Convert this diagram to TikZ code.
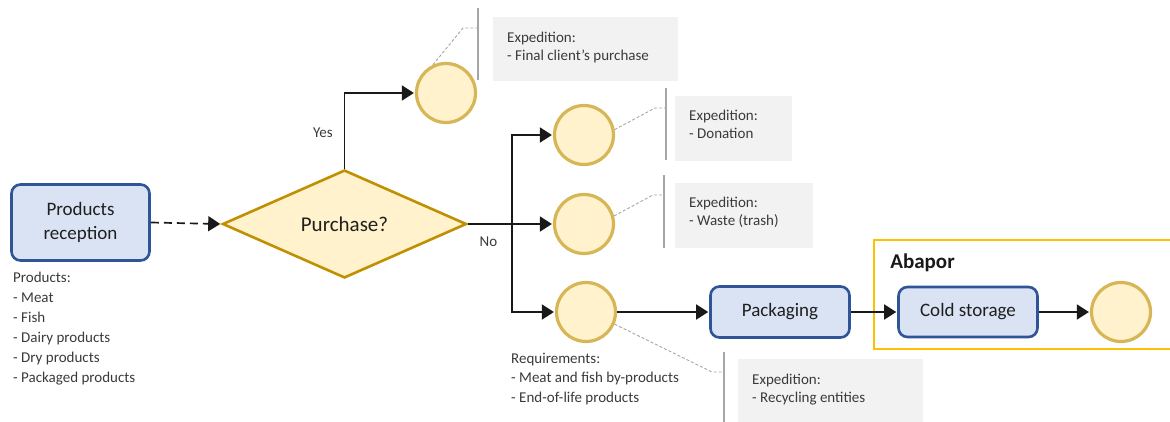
\documentclass[tikz,border=0pt]{standalone}
\usepackage{fontspec}
\setmainfont{Carlito}
\usetikzlibrary{arrows.meta,shapes.geometric}

\definecolor{taskfill}{HTML}{DAE3F3}
\definecolor{taskdraw}{HTML}{2F5597}
\definecolor{gatefill}{HTML}{FFF2CC}
\definecolor{gatedraw}{HTML}{BF9000}
\definecolor{eventdraw}{HTML}{D6B656}
\definecolor{notefill}{HTML}{F2F2F2}
\definecolor{notegray}{HTML}{A6A6A6}
\definecolor{notetext}{HTML}{3A3A3A}
\definecolor{mainText}{HTML}{1F1F1F}
\definecolor{poolframe}{HTML}{FFC000}

\begin{document}
\begin{tikzpicture}[x=1pt,y=-1pt,
  task/.style={draw=taskdraw, fill=taskfill, line width=2.6pt, rounded corners=9pt,
    inner sep=0pt, align=center, text=mainText,
    font=\fontsize{19}{24}\selectfont},
  gate/.style={diamond, draw=gatedraw, fill=gatefill, line width=2.6pt, inner sep=0pt,
    aspect=2.26, minimum width=244pt, minimum height=108pt, text=mainText,
    font=\fontsize{21}{24}\selectfont},
  event/.style={circle, draw=eventdraw, fill=gatefill, line width=3.2pt, inner sep=0pt,
    minimum size=59pt},
  flow/.style={draw=black!90, line width=1.7pt, shorten >=1pt,
    -{Triangle[length=12pt,width=15pt]}},
  notebox/.style={fill=notefill, draw=none, inner sep=0pt, anchor=north west},
  notetxt/.style={anchor=north west, inner sep=0pt, align=left, text=notetext,
    font=\fontsize{15}{18.3}\selectfont},
  listtxt/.style={anchor=north west, inner sep=0pt, align=left, text=notetext,
    font=\fontsize{15}{20}\selectfont},
  bracket/.style={draw=notegray, line width=1.3pt},
  callout/.style={draw=notegray, line width=0.9pt, dash pattern=on 3pt off 2pt},
  edgelabel/.style={text=notetext, font=\fontsize{15}{18}\selectfont, inner sep=0pt},
  pool/.style={draw=poolframe, line width=1.5pt, inner sep=0pt, anchor=north west}
]
\useasboundingbox (0,0) rectangle (1170,421);
\clip (0,0) rectangle (1170,421);

% ---- annotation boxes (background) ----
\node[notebox, minimum width=185pt, minimum height=64pt] (n1box) at (493,17) {};
\node[notebox, minimum width=117pt, minimum height=65pt] (n2box) at (675,96) {};
\node[notebox, minimum width=138pt, minimum height=65pt] (n3box) at (675,183) {};
\node[notebox, minimum width=185pt, minimum height=80pt] (n4box) at (738,359) {};

\node[notetxt] (n1) at (507,31.5) {Expedition:\\- Final client's purchase};
\node[notetxt] (n2) at (689,109.5) {Expedition:\\- Donation};
\node[notetxt] (n3) at (689,196.5) {Expedition:\\- Waste (trash)};
\node[notetxt] (n4) at (752,373.5) {Expedition:\\- Recycling entities};

% ---- pool frame ----
\node[pool, minimum width=310pt, minimum height=109pt] (abapor) at (873,239) {};
\node[font=\fontsize{21}{24}\selectfont\bfseries, text=black!90, inner sep=0pt] (abaporlabel) at (922.5,263) {Abapor};

% ---- flow objects ----
\node[task, minimum width=138pt, minimum height=76pt] (recv) at (80.5,222.5) {Products\\reception};
\node[gate] (buy) at (344.5,224) {Purchase?};
\node[event] (e1) at (446,93) {};
\node[event] (e2) at (584,135) {};
\node[event] (e3) at (584,224) {};
\node[event] (e4) at (586,312) {};
\node[task, minimum width=139pt, minimum height=51pt] (pack) at (780,312) {Packaging};
\node[task, minimum width=139pt, minimum height=50pt] (cold) at (968,312) {Cold storage};
\node[event] (e5) at (1121,312) {};

% ---- sequence flows ----
\draw[flow, dash pattern=on 8pt off 5pt] (recv.east) -- (buy.west);
\draw[flow] (buy.north) |- (e1.west);
\coordinate (fork) at (512,224);
\draw[flow] (buy.east) -- (e3.west);
\draw[flow] (fork) |- (e2.west);
\draw[flow] (fork) |- (e4.west);
\draw[flow] (e4.east) -- (pack.west);
\draw[flow] (pack.east) -- (cold.west);
\draw[flow] (cold.east) -- (e5.west);

\node[edgelabel] (yes) at (323,133) {Yes};
\node[edgelabel] (no) at (488.5,242) {No};

% ---- text annotations ----
\coordinate (b1t) at (478,8);   \coordinate (b1b) at (478,80);
\coordinate (b2t) at (666,88);  \coordinate (b2b) at (666,160);
\coordinate (b3t) at (664,175); \coordinate (b3b) at (664,248);
\coordinate (b4t) at (724,352); \coordinate (b4b) at (724,430);
\draw[bracket] (b1t) -- (b1b);
\draw[bracket] (b2t) -- (b2b);
\draw[bracket] (b3t) -- (b3b);
\draw[bracket] (b4t) -- (b4b);
\draw[callout] (e1.115) -- (463,28) -- (478,28);
\draw[callout] (e2.10) -- (655,108) -- (666,108);
\draw[callout] (e3.15) -- (653,195) -- (664,195);
\draw[callout] (e4.-23) -- (712,372) -- (724,372);

% ---- lists ----
\node[listtxt] (prodlist) at (13,271.5) {Products:\\- Meat\\- Fish\\- Dairy products\\- Dry products\\- Packaged products};
\node[listtxt, font=\fontsize{15}{19.7}\selectfont] (reqlist) at (511,352.5) {Requirements:\\- Meat and fish by-products\\- End-of-life products};
\end{tikzpicture}
\end{document}
